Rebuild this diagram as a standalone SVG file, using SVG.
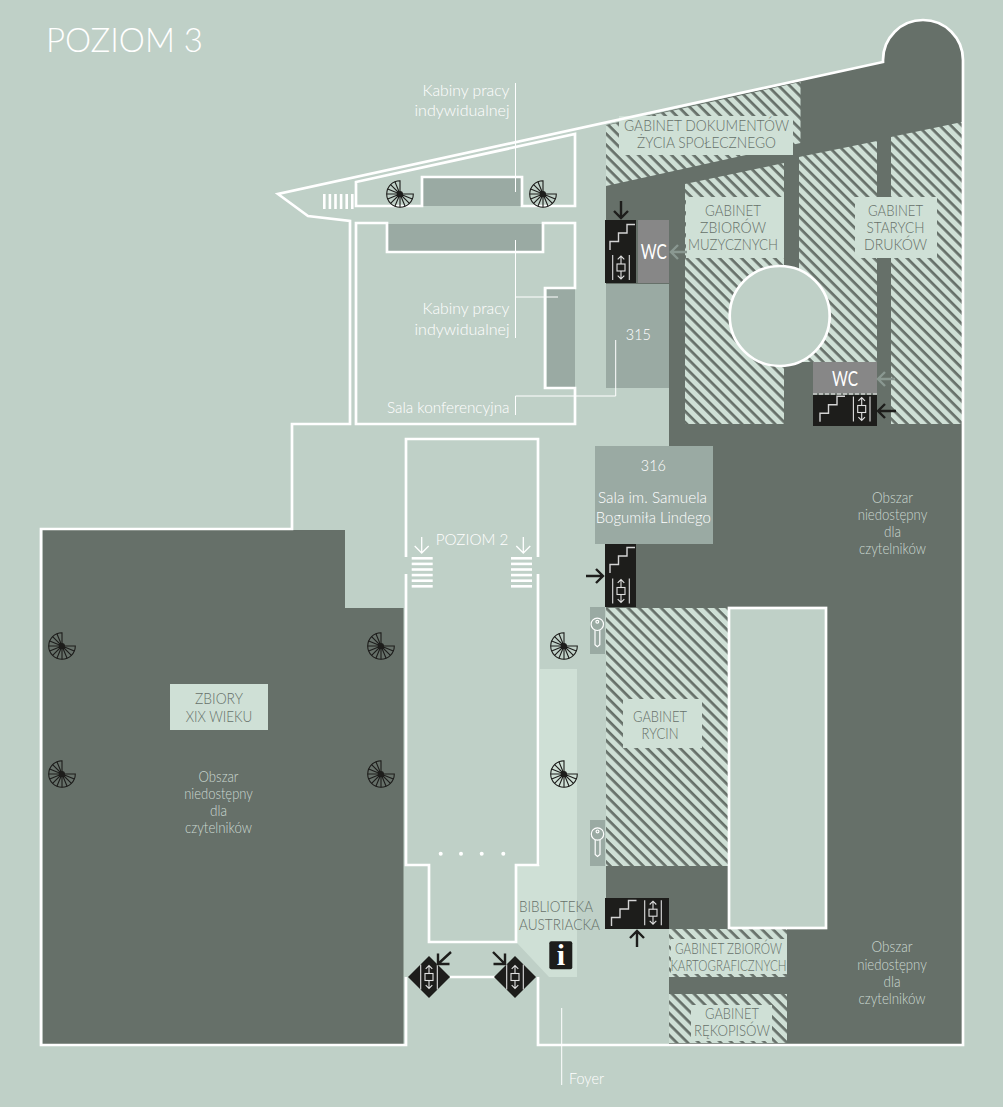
<svg xmlns="http://www.w3.org/2000/svg" width="1003" height="1107" viewBox="0 0 1003 1107">
<style>
text{font-family:"Lato","Noto Sans","Liberation Sans",sans-serif;font-weight:300;text-anchor:middle;font-size:16px}
.w{fill:#fff}
.o{fill:#cbd8d1;font-size:15px}
.d{fill:#667069}
.e{text-anchor:end}
.s{text-anchor:start}
.wall{fill:none;stroke:#fff;stroke-width:2.7}
.lead{fill:none;stroke:#fff;stroke-width:1}
.med{fill:#9aaaa3}
.lite{fill:#cfe0d6}
.blk{fill:#1d1d1b}
.stair{fill:none;stroke:#d4d4d4;stroke-width:1.4}
.ar{fill:none;stroke:#1d1d1b;stroke-width:2.4}
.ag{fill:none;stroke:#8a9891;stroke-width:2.4}
.aw{fill:none;stroke:#fff;stroke-width:1.3}
.wcbox{fill:#878787}
.wc{font-size:22px;font-weight:400;fill:#fff}
</style>
<defs>
<pattern id="hatch" width="7.8" height="7.8" patternUnits="userSpaceOnUse" patternTransform="rotate(45)">
<rect width="7.8" height="7.8" fill="#cfe0d6"/>
<rect width="7.8" height="2.7" fill="#667069"/>
</pattern>
<g id="spiral" fill="none" stroke="#1d1d1b" stroke-width="1.1">
<path d="M0,0V-13.3A13.3,13.3 0 1 0 13.3,0H0"/>
<path d="M0,0L-5.09,-12.29M0,0L-9.4,-9.4M0,0L-12.29,-5.09M0,0L-13.3,0M0,0L-12.29,5.09M0,0L-9.4,9.4M0,0L-5.09,12.29M0,0L0,13.3M0,0L5.09,12.29M0,0L9.4,9.4M0,0L12.29,5.09"/>
<circle r="3" fill="#1d1d1b" stroke="none"/>
</g>
<path id="stair" class="stair" d="M0,0V-8.5H8.5V-17H17V-25.5H25"/>
<g id="lift" fill="none" stroke="#e0e0e0" stroke-width="1.1">
<path d="M-8.3,-12.5V12.5M8.3,-12.5V12.5"/>
<rect x="-4" y="-3.5" width="8" height="7"/>
<path d="M0,-3.5V-11.5M-3.3,-8.2L0,-11.5L3.3,-8.2M0,3.5V11.5M-3.3,8.2L0,11.5L3.3,8.2"/>
</g>
<g id="key" fill="none" stroke="#fff" stroke-width="1.2">
<circle cx="0" cy="0" r="6.2"/>
<circle cx="0" cy="-2.6" r="1.4"/>
<path d="M-2.3,6V20.5L0,22.5L2.5,20.5V6"/>
</g>
<g id="stripesH" fill="#fff">
<rect y="0" width="21" height="2.6"/><rect y="5.6" width="21" height="2.6"/><rect y="11.2" width="21" height="2.6"/><rect y="16.8" width="21" height="2.6"/><rect y="22.4" width="21" height="2.6"/><rect y="28" width="21" height="2.6"/>
</g>
<path id="ad" d="M0,-16V0M-7,-7L0,0L7,-7"/>
</defs>

<rect width="1003" height="1107" fill="#bfd0c7"/>

<g id="dark-areas" fill="#667069">
<path d="M606,125L883,62V60A40,40 0 0 1 963,60V1044H669V929H606V544H669V388H606Z"/>
<path d="M42.5,530H345V608H403.5V1044H42.5Z"/>
</g>

<g id="biblioteka-area"><path class="lite" d="M540,669H577V977H549L517,943V865H540Z"/></g>

<g id="hatched-rooms" fill="url(#hatch)">
<path d="M606,125.5L800.5,82V143L606,186Z"/>
<path d="M685,184L784,163V424H685Z"/>
<path d="M799,157L877,141V362H799Z"/>
<path d="M891,137L962,122V424H891Z"/>
<rect x="606" y="608" width="123" height="258"/>
<rect x="669" y="929" width="118" height="48"/>
<rect x="669" y="994" width="118" height="49"/>
</g>

<g id="label-plates" class="lite">
<rect x="619" y="116" width="174" height="39"/>
<rect x="686" y="197" width="98" height="61"/>
<rect x="855" y="197" width="82" height="61"/>
<rect x="623" y="699" width="79" height="49"/>
<rect x="671" y="939" width="116" height="35"/>
<rect x="691" y="1005" width="81" height="36"/>
<rect x="170" y="684" width="98" height="46"/>
</g>

<g id="rooms-medium" class="med">
<rect x="423" y="178" width="98" height="28"/>
<rect x="388" y="224" width="154" height="27"/>
<rect x="547" y="289" width="28" height="98"/>
<rect x="606" y="284" width="63" height="104"/>
<rect x="595" y="446" width="118" height="98"/>
<rect x="590" y="607" width="15" height="47"/>
<rect x="590" y="820" width="15" height="46"/>
</g>

<g id="walls" class="wall">
<path d="M883,60V62L278,194L308,216L350,221V424H292V529H41V1045H406V977"/>
<path d="M883,60A40,40 0 0 1 963,60V1045H538V977"/>
<path d="M450,977H495"/>
<path d="M356,182L575,134V206H522V177H422V206H356Z"/>
<path d="M356,223H387V252H543V223H575V288H545V388H575V424H356Z"/>
<path d="M406,557V439H538V557M406,574V865H429V942H516V865H538V574"/>
<rect x="729" y="608" width="97" height="320" fill="#bfd0c7"/>
<circle cx="779.7" cy="316" r="50" fill="#bfd0c7"/>
</g>

<g id="leaders" class="lead">
<path d="M515.5,83V192"/>
<path d="M515.5,240V338M515.5,297H558"/>
<path d="M515.5,415V396H615.7V340"/>
<path d="M561.7,1008V1085"/>
</g>

<g id="spiral-stairs">
<use href="#spiral" x="62" y="646"/><use href="#spiral" x="62" y="774"/>
<use href="#spiral" x="381" y="646"/><use href="#spiral" x="381" y="774"/>
<use href="#spiral" x="564" y="646"/><use href="#spiral" x="564" y="774"/>
<use href="#spiral" x="400" y="194"/><use href="#spiral" x="543" y="194"/>
</g>

<g id="stripes">
<use href="#stripesH" x="411.7" y="557"/>
<use href="#stripesH" x="511" y="557"/>
<g fill="#fff"><rect x="323" y="194" width="2.6" height="15"/><rect x="328.6" y="194" width="2.6" height="15"/><rect x="334.2" y="194" width="2.6" height="15"/><rect x="339.8" y="194" width="2.6" height="15"/><rect x="345.4" y="194" width="2.6" height="15"/><rect x="351" y="194" width="2.6" height="15"/></g>
<use href="#ad" class="aw" x="421.7" y="553"/>
<use href="#ad" class="aw" x="523.3" y="553"/>
</g>

<g id="dots" fill="#fff">
<circle cx="440.7" cy="853.7" r="2"/><circle cx="461" cy="853.7" r="2"/><circle cx="481.7" cy="853.7" r="2"/><circle cx="503.3" cy="853.7" r="2"/>
</g>

<g id="wc-1"><rect class="wcbox" x="638" y="220" width="31" height="63"/><text class="wc" x="653.7" y="259" textLength="26" lengthAdjust="spacingAndGlyphs">WC</text></g>
<g id="wc-2"><rect class="wcbox" x="813" y="362" width="64" height="31.5"/><text class="wc" x="845" y="386" textLength="26" lengthAdjust="spacingAndGlyphs">WC</text><path d="M813,394H877" stroke="#fff" stroke-width="1" stroke-dasharray="4 2"/></g>

<g id="core-1"><rect class="blk" x="605" y="220" width="31" height="63"/><use href="#stair" x="610" y="250"/><use href="#lift" x="621" y="267.5"/></g>
<g id="core-2"><rect class="blk" x="813" y="395" width="64" height="31"/><use href="#stair" x="820" y="421.7"/><use href="#lift" x="861.7" y="409"/></g>
<g id="core-3"><rect class="blk" x="605" y="544" width="31" height="63"/><use href="#stair" x="610" y="573"/><use href="#lift" x="621" y="591"/></g>
<g id="core-4"><rect class="blk" x="605" y="898" width="64" height="31"/><use href="#stair" x="611.5" y="926"/><use href="#lift" x="653" y="912.7"/></g>
<g id="lift-a"><path class="blk" d="M429,956L450,977L429,998L408,977Z"/><use href="#lift" x="429" y="977"/></g>
<g id="lift-b"><path class="blk" d="M515,956L536,977L515,998L494,977Z"/><use href="#lift" x="515" y="977"/></g>

<g id="arrows">
<path class="ar" d="M621,201V218M614,211L621,218L628,211"/>
<path class="ag" d="M687,252H671M678,245L671,252L678,259"/>
<path class="ag" d="M895,379H878M885,372L878,379L885,386"/>
<path class="ar" d="M896,411H878M885,404L878,411L885,418"/>
<path class="ar" d="M586,576H603M596,569L603,576L596,583"/>
<path class="ar" d="M637,947V931M630,938L637,931L644,938"/>
<path class="ar" d="M451,952L438,964M438,953.5V964H449.5"/>
<path class="ar" d="M493,952L505,964M505,953.5V964H493.5"/>
</g>

<g id="keys"><use href="#key" x="597.3" y="624.3"/><use href="#key" x="597.5" y="834"/></g>

<g id="info"><rect class="blk" x="549.3" y="941.3" width="23" height="28" rx="2"/><text x="561" y="965" style="font-family:'Liberation Serif',serif;font-weight:700;font-size:30px;fill:#fff">i</text></g>

<g id="labels">
<text class="w s" x="46" y="52" style="font-size:33px" textLength="157" lengthAdjust="spacingAndGlyphs">POZIOM 3</text>
<text class="w e" x="509.5" y="95.7" textLength="87" lengthAdjust="spacingAndGlyphs">Kabiny pracy</text>
<text class="w e" x="509.5" y="116" textLength="95" lengthAdjust="spacingAndGlyphs">indywidualnej</text>
<text class="w e" x="509.5" y="314" textLength="87" lengthAdjust="spacingAndGlyphs">Kabiny pracy</text>
<text class="w e" x="509.5" y="335" textLength="95" lengthAdjust="spacingAndGlyphs">indywidualnej</text>
<text class="w e" x="509.5" y="413" textLength="122.6" lengthAdjust="spacingAndGlyphs">Sala konferencyjna</text>
<text class="w" x="638.3" y="340" textLength="25" lengthAdjust="spacingAndGlyphs">315</text>
<text class="w" x="653.3" y="470.7" textLength="25" lengthAdjust="spacingAndGlyphs">316</text>
<text class="w" x="652.5" y="502.7" textLength="109" lengthAdjust="spacingAndGlyphs">Sala im. Samuela</text>
<text class="w" x="653.3" y="523" textLength="115" lengthAdjust="spacingAndGlyphs">Bogumiła Lindego</text>
<text class="w" x="472" y="545" textLength="72.7" lengthAdjust="spacingAndGlyphs">POZIOM 2</text>
<text class="d" x="706.5" y="131" textLength="165" lengthAdjust="spacingAndGlyphs">GABINET DOKUMENTÓW</text>
<text class="d" x="706.5" y="148" textLength="139" lengthAdjust="spacingAndGlyphs">ŻYCIA SPOŁECZNEGO</text>
<text class="d" x="733" y="216" textLength="56" lengthAdjust="spacingAndGlyphs">GABINET</text>
<text class="d" x="733" y="233" textLength="66" lengthAdjust="spacingAndGlyphs">ZBIORÓW</text>
<text class="d" x="733" y="250" textLength="90" lengthAdjust="spacingAndGlyphs">MUZYCZNYCH</text>
<text class="d" x="895.5" y="216" textLength="55" lengthAdjust="spacingAndGlyphs">GABINET</text>
<text class="d" x="895.5" y="233" textLength="58" lengthAdjust="spacingAndGlyphs">STARYCH</text>
<text class="d" x="895.5" y="250" textLength="63" lengthAdjust="spacingAndGlyphs">DRUKÓW</text>
<text class="d" x="660" y="721.7" textLength="54" lengthAdjust="spacingAndGlyphs">GABINET</text>
<text class="d" x="660" y="738.7" textLength="37" lengthAdjust="spacingAndGlyphs">RYCIN</text>
<text class="d" x="219" y="704" style="font-size:15px" textLength="48" lengthAdjust="spacingAndGlyphs">ZBIORY</text>
<text class="d" x="219" y="721.5" style="font-size:15px" textLength="66.7" lengthAdjust="spacingAndGlyphs">XIX WIEKU</text>
<text class="d" x="728.5" y="954" textLength="107" lengthAdjust="spacingAndGlyphs">GABINET ZBIORÓW</text>
<text class="d" x="728.5" y="971" textLength="116" lengthAdjust="spacingAndGlyphs">KARTOGRAFICZNYCH</text>
<text class="d" x="732" y="1019" textLength="54" lengthAdjust="spacingAndGlyphs">GABINET</text>
<text class="d" x="732" y="1036" textLength="76" lengthAdjust="spacingAndGlyphs">RĘKOPISÓW</text>
<text class="d s" x="519" y="912.3" textLength="74" lengthAdjust="spacingAndGlyphs">BIBLIOTEKA</text>
<text class="d s" x="519" y="929.7" textLength="81" lengthAdjust="spacingAndGlyphs">AUSTRIACKA</text>
<text class="w s" x="569" y="1084" textLength="35" lengthAdjust="spacingAndGlyphs">Foyer</text>
<text class="o" x="218.5" y="782.3" textLength="40" lengthAdjust="spacingAndGlyphs">Obszar</text><text class="o" x="218.5" y="799.3" textLength="68.7" lengthAdjust="spacingAndGlyphs">niedostępny</text><text class="o" x="218.5" y="816" textLength="17" lengthAdjust="spacingAndGlyphs">dla</text><text class="o" x="218.5" y="833" textLength="67" lengthAdjust="spacingAndGlyphs">czytelników</text>
<text class="o" x="892.5" y="503.3" textLength="41" lengthAdjust="spacingAndGlyphs">Obszar</text><text class="o" x="892.5" y="520" textLength="69.7" lengthAdjust="spacingAndGlyphs">niedostępny</text><text class="o" x="892.5" y="537.3" textLength="17" lengthAdjust="spacingAndGlyphs">dla</text><text class="o" x="892.5" y="554" textLength="67" lengthAdjust="spacingAndGlyphs">czytelników</text>
<text class="o" x="892" y="952" textLength="41" lengthAdjust="spacingAndGlyphs">Obszar</text><text class="o" x="892" y="969.5" textLength="69.7" lengthAdjust="spacingAndGlyphs">niedostępny</text><text class="o" x="892" y="987" textLength="17" lengthAdjust="spacingAndGlyphs">dla</text><text class="o" x="892" y="1004" textLength="67" lengthAdjust="spacingAndGlyphs">czytelników</text>
</g>
</svg>
